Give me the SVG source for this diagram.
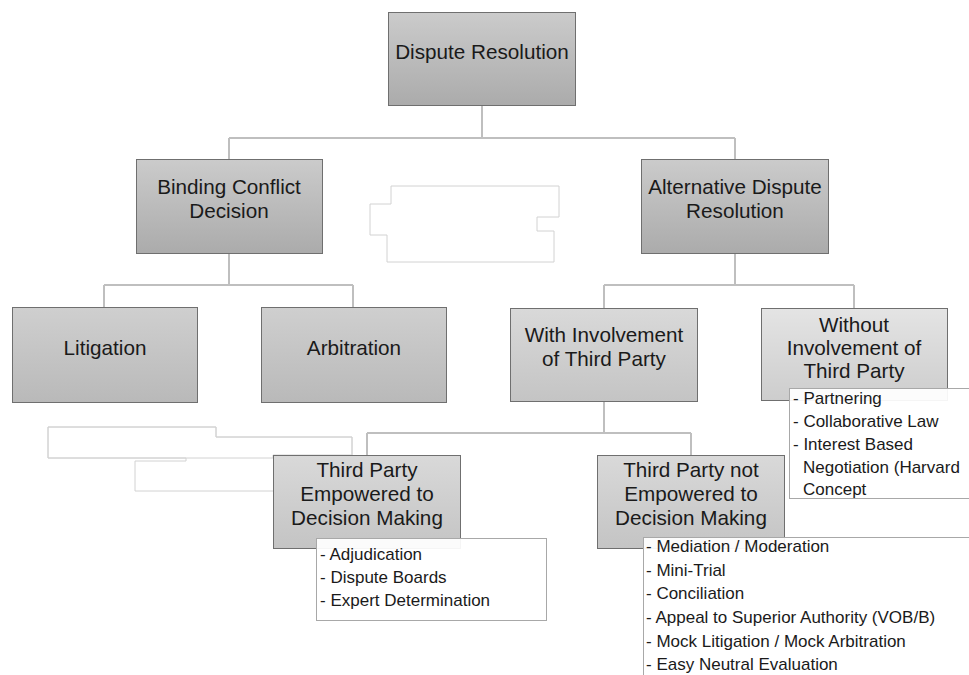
<svg xmlns="http://www.w3.org/2000/svg" width="969" height="675" viewBox="0 0 969 675">
<defs>
<linearGradient id="g1" x1="0" y1="0" x2="0" y2="1"><stop offset="0" stop-color="#cbcbcb"/><stop offset="1" stop-color="#ababab"/></linearGradient>
<linearGradient id="g2" x1="0" y1="0" x2="0" y2="1"><stop offset="0" stop-color="#cfcfcf"/><stop offset="1" stop-color="#b9b9b9"/></linearGradient>
<linearGradient id="g3" x1="0" y1="0" x2="0" y2="1"><stop offset="0" stop-color="#d9d9d9"/><stop offset="1" stop-color="#c4c4c4"/></linearGradient>
<linearGradient id="g4" x1="0" y1="0" x2="0" y2="1"><stop offset="0" stop-color="#e4e4e4"/><stop offset="1" stop-color="#cdcdcd"/></linearGradient>
</defs>
<style>
.box{stroke:#6f6f6f;stroke-width:1}
.t{font-family:"Liberation Sans",Arial,sans-serif;font-size:20.7px;fill:#1a1a1a;text-anchor:middle}
.l{font-family:"Liberation Sans",Arial,sans-serif;font-size:17px;fill:#1a1a1a}
.list{fill:#ffffff;fill-opacity:0.93;stroke:#a8a8a8;stroke-width:1}
.ghost{fill:#ffffff;stroke:#d2d2d2;stroke-width:1}
.c{fill:none;stroke:#bfbfbf;stroke-width:2}
</style>
<rect width="969" height="675" fill="#ffffff"/>
<g id="connectors">
<path class="c" d="M482,106 V138 M229,138 H735 M229,138 V159 M735,138 V159"/>
<path class="c" d="M229,253 V285 M104,285 H353 M104,285 V307 M353,285 V307"/>
<path class="c" d="M735,253 V285 M604,285 H854 M604,285 V308 M854,285 V308"/>
<path class="c" d="M604,401 V433 M367,433 H691 M367,433 V455 M691,433 V455"/>
</g>
<g id="ghost-shapes">
<path class="ghost" d="M391,186 H559 V217 H537 V231 H554 V262 H387 V235 H370 V204 H391 Z"/>
<path class="ghost" d="M48,427 H216 V437 H352 V455 H273 V458 H48 Z" stroke="none"/>
<path fill="none" stroke="#d2d2d2" stroke-width="1" d="M48,427 H216 V437 H352 V455 M48,427 V458 H186 V461 H135 V491 H273"/>
</g>
<g id="n-dispute-resolution">
<rect class="box" x="388.5" y="12.5" width="187" height="93" fill="url(#g1)"/>
<text class="t" x="482" y="59">Dispute Resolution</text>
</g>
<g id="n-binding">
<rect class="box" x="136.5" y="159.5" width="186" height="94" fill="url(#g1)"/>
<text class="t" x="229" y="194">Binding Conflict</text>
<text class="t" x="229" y="218">Decision</text>
</g>
<g id="n-adr">
<rect class="box" x="641.5" y="159.5" width="187" height="94" fill="url(#g1)"/>
<text class="t" x="735" y="194">Alternative Dispute</text>
<text class="t" x="735" y="218">Resolution</text>
</g>
<g id="n-litigation">
<rect class="box" x="12.5" y="307.5" width="185" height="95" fill="url(#g2)"/>
<text class="t" x="105" y="355">Litigation</text>
</g>
<g id="n-arbitration">
<rect class="box" x="261.5" y="307.5" width="185" height="95" fill="url(#g2)"/>
<text class="t" x="354" y="355">Arbitration</text>
</g>
<g id="n-with">
<rect class="box" x="510.5" y="308.5" width="187" height="93" fill="url(#g3)"/>
<text class="t" x="604" y="342">With Involvement</text>
<text class="t" x="604" y="366">of Third Party</text>
</g>
<g id="n-without">
<rect class="box" x="761.5" y="308.5" width="186" height="92" fill="url(#g4)"/>
<text class="t" x="854" y="332">Without</text>
<text class="t" x="854" y="355">Involvement of</text>
<text class="t" x="854" y="378">Third Party</text>
<rect class="list" x="789.5" y="388.5" width="190" height="110"/>
<text class="l" x="793" y="404">- Partnering</text>
<text class="l" x="793" y="427">- Collaborative Law</text>
<text class="l" x="793" y="450">- Interest Based</text>
<text class="l" x="803" y="473">Negotiation (Harvard</text>
<text class="l" x="803" y="495">Concept</text>
</g>
<g id="n-empowered">
<rect class="box" x="273.5" y="455.5" width="187" height="93" fill="url(#g3)"/>
<text class="t" x="367" y="477">Third Party</text>
<text class="t" x="367" y="501">Empowered to</text>
<text class="t" x="367" y="525">Decision Making</text>
<rect class="list" x="316.5" y="538.5" width="230" height="82"/>
<text class="l" x="320" y="560">- Adjudication</text>
<text class="l" x="320" y="583">- Dispute Boards</text>
<text class="l" x="320" y="606">- Expert Determination</text>
</g>
<g id="n-not-empowered">
<rect class="box" x="597.5" y="455.5" width="187" height="93" fill="url(#g3)"/>
<text class="t" x="691" y="477">Third Party not</text>
<text class="t" x="691" y="501">Empowered to</text>
<text class="t" x="691" y="525">Decision Making</text>
<rect class="list" x="643.5" y="537.5" width="340" height="150"/>
<text class="l" x="646" y="552">- Mediation / Moderation</text>
<text class="l" x="646" y="576">- Mini-Trial</text>
<text class="l" x="646" y="599">- Conciliation</text>
<text class="l" x="646" y="623">- Appeal to Superior Authority (VOB/B)</text>
<text class="l" x="646" y="647">- Mock Litigation / Mock Arbitration</text>
<text class="l" x="646" y="670">- Easy Neutral Evaluation</text>
</g>
</svg>
